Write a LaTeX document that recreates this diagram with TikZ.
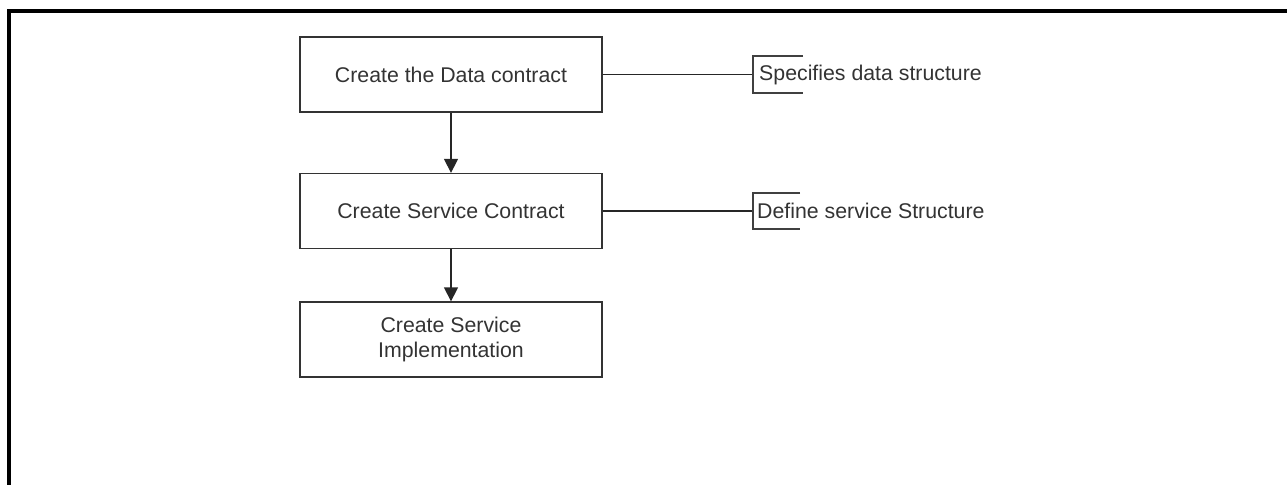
\documentclass[tikz,border=0pt]{standalone}
\usepackage{fontspec}
\setmainfont{Liberation Sans}
\usetikzlibrary{arrows.meta}
\begin{document}
\begin{tikzpicture}[x=1pt,y=-1pt,
  stepbox/.style={draw=black!80, line width=1.3pt, rectangle, minimum width=302pt, minimum height=75pt, inner sep=0pt, align=center, text=black!80, font=\fontsize{21.3}{25}\selectfont},
  note/.style={anchor=west, inner sep=0pt, text=black!80, font=\fontsize{21.3}{25}\selectfont},
  link/.style={line width=1.3pt, black!85},
  flow/.style={line width=1.3pt, black!85, -{Triangle[width=14pt,length=14pt]}},
  bracket/.style={line width=1.3pt, black!75}]
\useasboundingbox (0,0) rectangle (1287,485);
\draw[line width=4pt, miter limit=10] (1287,11) -- (9,11) -- (9,485);
\node[stepbox] (b1) at (451,74.5) {Create the Data contract};
\node[stepbox] (b2) at (451,211) {Create Service Contract};
\node[stepbox] (b3) at (451,339.5) {Create Service\\Implementation};
\draw[flow] (b1) -- (b2);
\draw[flow] (b2) -- (b3);
\node[note] (n1) at (759,74.5) {Specifies data structure};
\node[note] (n2) at (757,211) {Define service Structure};
\coordinate (c1) at (753,74.5);
\coordinate (c2) at (753,211);
\draw[link] (b1.east) -- (c1);
\draw[link] (b2.east) -- (c2);
\draw[bracket] ([shift={(50,-18.5)}]c1) -- ([shift={(0,-18.5)}]c1) -- ([shift={(0,18.5)}]c1) -- ([shift={(50,18.5)}]c1);
\draw[bracket] ([shift={(47,-18)}]c2) -- ([shift={(0,-18)}]c2) -- ([shift={(0,18)}]c2) -- ([shift={(47,18)}]c2);
\end{tikzpicture}
\end{document}
